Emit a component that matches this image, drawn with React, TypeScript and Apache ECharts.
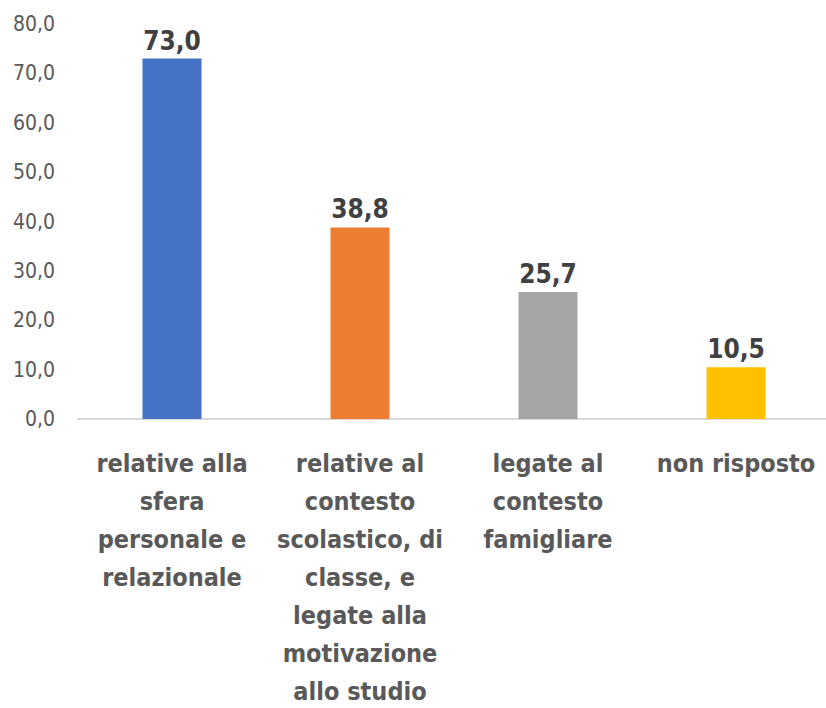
import React, { useEffect, useRef } from "react";
import * as echarts from "echarts";

const categories: string[] = [
  "relative alla\nsfera\npersonale e\nrelazionale",
  "relative al\ncontesto\nscolastico, di\nclasse, e\nlegate alla\nmotivazione\nallo studio",
  "legate al\ncontesto\nfamigliare",
  "non risposto",
];
const values: number[] = [73.0, 38.8, 25.7, 10.5];
const barColors: string[] = ["#4472C4", "#ED7D31", "#A5A5A5", "#FFC000"];
const yMin = 0;
const yMax = 80;
const yInterval = 10;

const FONT = "'Liberation Sans Narrow', 'DejaVu Sans Condensed', 'Liberation Sans', sans-serif";

export default function App() {
  const ref = useRef<HTMLDivElement>(null);
  useEffect(() => {
    if (!ref.current) return;
    const chart = echarts.init(ref.current, undefined, { renderer: "svg" });
    chart.setOption({
      animation: false,
      backgroundColor: "#FFFFFF",
      grid: {
        left: 78,
        right: -4,
        top: 24,
        bottom: 289,
        containLabel: false,
        outerBoundsMode: "none",
      },
      xAxis: {
        type: "category",
        data: categories,
        axisLine: { show: true, lineStyle: { color: "#D9D9D9", width: 2 } },
        axisTick: { show: false },
        axisLabel: {
          interval: 0,
          margin: 25,
          color: "#595959",
          fontFamily: FONT,
          fontWeight: "bold",
          fontSize: 25,
          lineHeight: 38,
        },
      },
      yAxis: {
        type: "value",
        min: yMin,
        max: yMax,
        interval: yInterval,
        splitLine: { show: false },
        axisLine: { show: false },
        axisTick: { show: false },
        axisLabel: {
          margin: 23,
          color: "#595959",
          fontFamily: FONT,
          fontSize: 21,
          formatter: (v: number) => v.toFixed(1).replace(".", ","),
        },
      },
      series: [
        {
          type: "bar",
          data: values.map((v, i) => ({ value: v, itemStyle: { color: barColors[i] } })),
          barWidth: 59,
          label: {
            show: true,
            position: "top",
            distance: 5,
            color: "#404040",
            fontFamily: FONT,
            fontWeight: "bold",
            fontSize: 26,
            formatter: (p: any) => Number(p.value).toFixed(1).replace(".", ","),
          },
        },
      ],
    });
    return () => chart.dispose();
  }, []);
  return (
    <div
      ref={ref}
      style={{ position: "fixed", left: 0, top: 0, width: 826, height: 708, background: "#fff" }}
    />
  );
}
